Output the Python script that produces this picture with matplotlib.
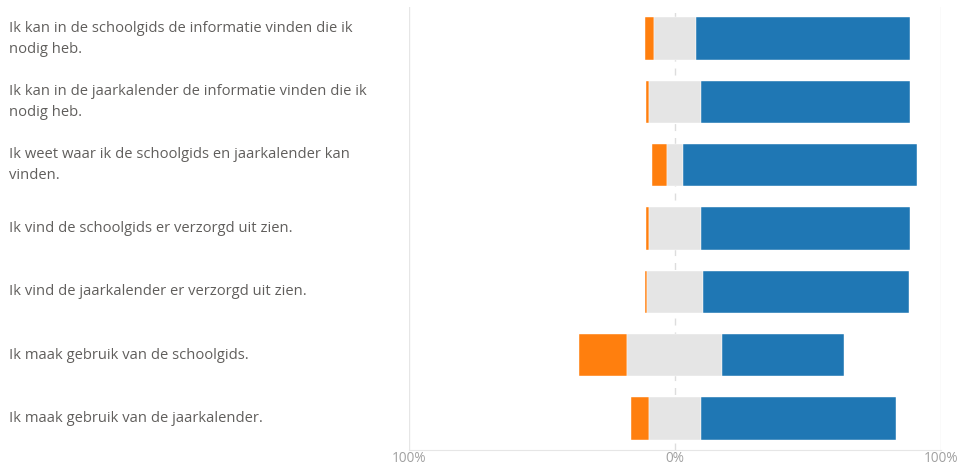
import matplotlib.pyplot as plt
from matplotlib.transforms import blended_transform_factory

# statements (top to bottom)
statements = [
    'Ik kan in de schoolgids de informatie vinden die ik\nnodig heb.',
    'Ik kan in de jaarkalender de informatie vinden die ik\nnodig heb.',
    'Ik weet waar ik de schoolgids en jaarkalender kan\nvinden.',
    'Ik vind de schoolgids er verzorgd uit zien.',
    'Ik vind de jaarkalender er verzorgd uit zien.',
    'Ik maak gebruik van de schoolgids.',
    'Ik maak gebruik van de jaarkalender.',
]

# percentages per answer group
disagree = [3.2, 1.1, 5.5, 1.1, 0.9, 18.0, 6.5]
neutral = [15.8, 19.8, 6.0, 19.8, 21.0, 35.8, 19.8]
agree = [80.7, 78.7, 88.0, 78.7, 77.6, 45.8, 73.2]

tick_vals = [-100, 0, 100]
tick_labels = ['100%', '0%', '100%']

plt.rcParams['font.family'] = ['Open Sans', 'DejaVu Sans']

fig = plt.figure(figsize=(9.6, 4.67), dpi=100)
ax = fig.add_axes([0.426, 0.036, 0.554, 0.949])

y = list(range(len(statements)))
half = [n / 2 for n in neutral]
left_orange = [-(h + d) for h, d in zip(half, disagree)]
left_gray = [-h for h in half]

ax.barh(y, disagree, left=left_orange, height=0.67, color='#FF7F0E',
        edgecolor='#ffffff', linewidth=0.3)
ax.barh(y, neutral, left=left_gray, height=0.67, color='#E5E5E5',
        edgecolor='#ffffff', linewidth=0.3)
ax.barh(y, agree, left=half, height=0.67, color='#1F77B4',
        edgecolor='#ffffff', linewidth=0.3)

ax.set_xlim(-100, 100)
ax.set_ylim(len(statements) - 0.5, -0.5)

# gridlines
for v in (-100, 100):
    ax.axvline(v, color='#E6E6E6', lw=1, zorder=0)
ax.axvline(0, color='#DDDDDD', lw=1, ls=(0, (5, 5)), zorder=0)

for s in ('top', 'right', 'left'):
    ax.spines[s].set_visible(False)
ax.spines['bottom'].set_color('#E6E6E6')

ax.set_yticks([])
ax.set_xticks(tick_vals)
ax.set_xticklabels(tick_labels, color='#A0A0A0', fontsize=9.8)
ax.tick_params(axis='x', length=0, pad=0.5)

trans = blended_transform_factory(fig.transFigure, ax.transData)
for i, s in enumerate(statements):
    ax.text(0.009, i, s, transform=trans, ha='left', va='center',
            fontsize=10.6, color='#605E5C', linespacing=1.55)

fig.savefig('out.png', dpi=100)
